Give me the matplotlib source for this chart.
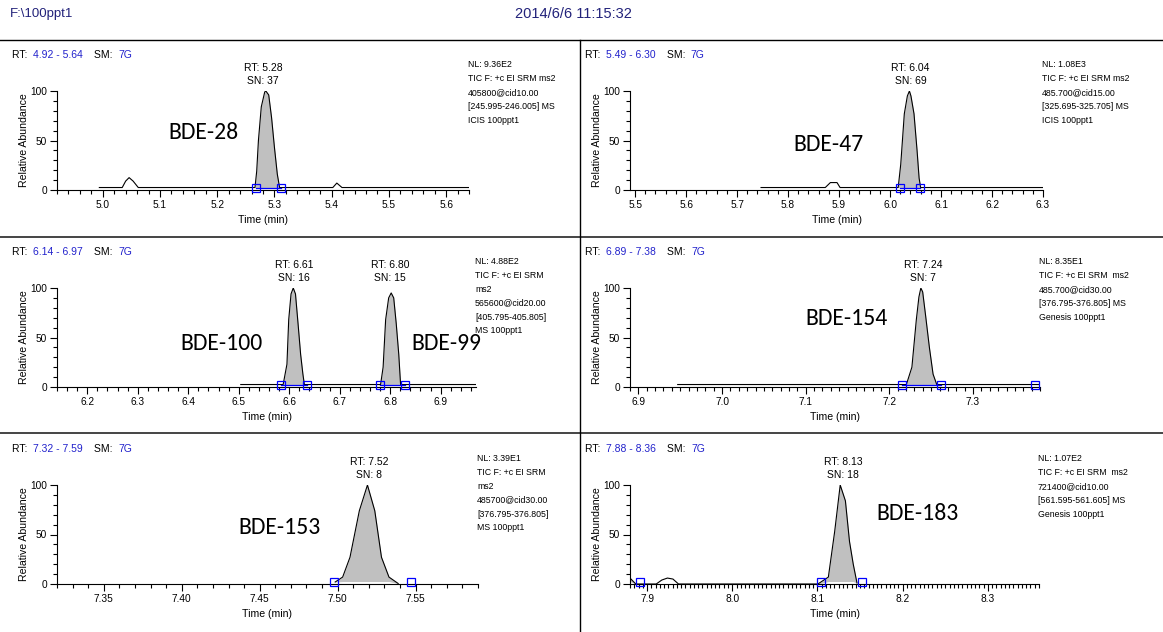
import numpy as np
import matplotlib
matplotlib.use('Agg')
import matplotlib.pyplot as plt
from matplotlib.lines import Line2D
from matplotlib.ticker import MultipleLocator, FormatStrFormatter

plt.rcParams['font.family'] = ['Liberation Sans', 'DejaVu Sans']

W, H = 1163, 632
BLUE = '#2222cc'
NAVY = '#22227a'
FILL = '#c0c0c0'

# ---- data (time in min, relative abundance %) ----
tl_range = (4.92, 5.64)
tl_time = [4.994, 5.034, 5.040, 5.046, 5.053, 5.062, 5.266, 5.269, 5.272, 5.277, 5.283,
           5.285, 5.290, 5.295, 5.300, 5.305, 5.309, 5.402, 5.409, 5.418, 5.640]
tl_abund = [2.5, 2.5, 9, 12.5, 9, 2.5, 2.5, 19, 50, 84, 99,
            100, 96, 73, 43, 16, 2.5, 2.5, 7, 2.5, 2.5]
tl_marks = [5.267, 5.312]
tl_fill = [(5.266, 5.309)]
tl_rt = [5.28]
tl_sn = [37]

tr_range = (5.49, 6.30)
tr_time = [5.747, 5.873, 5.883, 5.896, 5.902, 6.016, 6.021, 6.028, 6.034, 6.038,
           6.041, 6.047, 6.053, 6.057, 6.060, 6.300]
tr_abund = [2.5, 2.5, 7.5, 7.5, 2.5, 2.5, 26, 77, 95, 100,
            95, 77, 40, 12, 2.5, 2.5]
tr_marks = [6.019, 6.058]
tr_fill = [(6.016, 6.060)]
tr_rt = [6.04]
tr_sn = [69]

ml_range = (6.14, 6.97)
ml_time = [6.504, 6.588, 6.5955, 6.599, 6.6036, 6.608, 6.6124, 6.6175, 6.6226, 6.6271, 6.630,
           6.781, 6.786, 6.791, 6.797, 6.802, 6.807, 6.812, 6.817, 6.8206, 6.970]
ml_abund = [2.5, 2.5, 23, 68, 94, 100, 94, 64, 33, 13, 2.5,
            2.5, 20, 68, 90, 95, 90, 64, 33, 2.5, 2.5]
ml_marks = [6.5845, 6.6345, 6.779, 6.829]
ml_fill = [(6.588, 6.630), (6.781, 6.8206)]
ml_rt = [6.61, 6.80]
ml_sn = [16, 15]

mr_range = (6.89, 7.38)
mr_time = [6.947, 7.2203, 7.2269, 7.2322, 7.2353, 7.2376, 7.2398, 7.2433, 7.2478,
           7.2522, 7.2566, 7.380]
mr_abund = [2.5, 2.5, 20, 68, 91, 100, 96, 72, 40, 13, 2.5, 2.5]
mr_marks = [7.2154, 7.2611, 7.3745]
mr_fill = [(7.2203, 7.2566)]
mr_rt = [7.24]
mr_sn = [7]

bl_range = (7.32, 7.59)
bl_time = [7.4984, 7.5032, 7.5079, 7.5139, 7.5191, 7.5238, 7.5281, 7.5329, 7.5388]
bl_abund = [2, 7, 27, 74, 100, 74, 27, 7, 0.5]
bl_marks = [7.4979, 7.547]
bl_fill = [(7.4984, 7.5388)]
bl_rt = [7.52]
bl_sn = [8]

br_range = (7.88, 8.36)
br_time = [7.880, 7.8868, 7.9108, 7.9173, 7.9239, 7.9304, 7.9369, 8.1005, 8.1128,
           8.1202, 8.1267, 8.1328, 8.1376, 8.1420, 8.1464]
br_abund = [6, 0, 0, 4, 6, 5, 0, 0, 7, 53, 100, 84, 43, 20, 1]
br_marks = [7.892, 8.104, 8.152]
br_fill = [(7.880, 7.8868), (8.1005, 8.1464)]
br_rt = [8.13]
br_sn = [18]

compounds = ['BDE-28', 'BDE-47', 'BDE-100', 'BDE-99', 'BDE-154', 'BDE-153', 'BDE-183']

nl_text = [
    ['NL: 9.36E2', 'TIC F: +c EI SRM ms2', '405800@cid10.00', '[245.995-246.005] MS', 'ICIS 100ppt1'],
    ['NL: 1.08E3', 'TIC F: +c EI SRM ms2', '485.700@cid15.00', '[325.695-325.705] MS', 'ICIS 100ppt1'],
    ['NL: 4.88E2', 'TIC F: +c EI SRM', 'ms2', '565600@cid20.00', '[405.795-405.805]', 'MS 100ppt1'],
    ['NL: 8.35E1', 'TIC F: +c EI SRM  ms2', '485.700@cid30.00', '[376.795-376.805] MS', 'Genesis 100ppt1'],
    ['NL: 3.39E1', 'TIC F: +c EI SRM', 'ms2', '485700@cid30.00', '[376.795-376.805]', 'MS 100ppt1'],
    ['NL: 1.07E2', 'TIC F: +c EI SRM  ms2', '721400@cid10.00', '[561.595-561.605] MS', 'Genesis 100ppt1'],
]


def fx(x):
    return x / W


def fy(y):
    return 1 - y / H


fig = plt.figure(figsize=(W / 100, H / 100), dpi=100)

# page header and frame
fig.text(fx(10), fy(14), 'F:\\100ppt1', color=NAVY, fontsize=9.5, va='center')
fig.text(fx(573), fy(14), '2014/6/6 11:15:32', color=NAVY, fontsize=10.5, va='center', ha='center')
fig.add_artist(Line2D([0, 1], [fy(40), fy(40)], color='black', lw=1.0))
for yy in (237, 433):
    fig.add_artist(Line2D([0, 1], [fy(yy), fy(yy)], color='#444444', lw=1.4))
fig.add_artist(Line2D([fx(580), fx(580)], [fy(40), 0], color='black', lw=1.0))


def panel(left, right, y0, rt_range, time, abund, marks, fills, joins, rts, sns,
          labels, nl, major, minor, fmt):
    ax = fig.add_axes([fx(left), fy(y0), (right - left) / W, 99 / H])
    t = np.array(time)
    v = np.array(abund)
    base = 2.5
    ax.plot(t, v, color='black', lw=0.8, zorder=3)
    for a, b in fills:
        m = (t >= a - 1e-6) & (t <= b + 1e-6)
        ax.fill_between(t[m], v[m], np.minimum(v[m], base), color=FILL, lw=0, zorder=2)
    for a, b in joins:
        ax.plot([a, b], [base, base], color='blue', lw=0.9, zorder=4)
    ax.plot(marks, [base] * len(marks), 's', mfc='none', mec='blue', ms=5.5, mew=0.9,
            clip_on=False, zorder=5)

    ax.set_xlim(*rt_range)
    ax.set_ylim(0, 100)
    for s in ('top', 'right'):
        ax.spines[s].set_visible(False)
    for s in ('left', 'bottom'):
        ax.spines[s].set_linewidth(0.8)
    ax.xaxis.set_major_locator(MultipleLocator(major))
    ax.xaxis.set_minor_locator(MultipleLocator(minor))
    ax.xaxis.set_major_formatter(FormatStrFormatter(fmt))
    ax.set_yticks([0, 50, 100])
    ax.yaxis.set_minor_locator(MultipleLocator(10))
    ax.tick_params(axis='both', which='major', length=5, width=0.8, labelsize=7.3, pad=2)
    ax.tick_params(axis='both', which='minor', length=3, width=0.8)
    ax.patch.set_alpha(0)

    for rt, sn in zip(rts, sns):
        ax.text(rt, 123, f'RT: {rt:.2f}', ha='center', va='center', fontsize=7.5, clip_on=False)
        ax.text(rt, 110, f'SN: {sn}', ha='center', va='center', fontsize=7.5, clip_on=False)
    for name, (lt, lv) in labels:
        ax.text(lt, lv, name, ha='center', va='center', fontsize=17,
                family=['Carlito', 'Lato', 'DejaVu Sans'], clip_on=False)

    fig.text(fx(left - 33), fy(y0 - 50), 'Relative Abundance', rotation=90,
             fontsize=7.6, ha='center', va='center')
    fig.text(fx((left + right) / 2), fy(y0 + 30), 'Time (min)', fontsize=7.6,
             ha='center', va='center')

    # run header: black captions, blue values
    pieces = [('RT: ', 'black'), (f'{rt_range[0]:.2f} - {rt_range[1]:.2f}', BLUE),
              ('SM: ', 'black'), ('7G', BLUE)]
    prev = fig.text(fx(left - 45), fy(y0 - 132), pieces[0][0], color=pieces[0][1],
                    fontsize=7.5, va='baseline')
    gaps = [2, 8, 2]
    for (txt, col), g in zip(pieces[1:], gaps):
        prev = ax.annotate(txt, xy=(1, 0), xycoords=prev, xytext=(g, 0),
                           textcoords='offset points', color=col, fontsize=7.5,
                           va='bottom', annotation_clip=False)

    fig.text(fx(right - 1), fy(y0 - 130), '\n'.join(nl), fontsize=6.3, va='top',
             ha='left', linespacing=1.7)
    return ax


panel(57, 469, 190, tl_range, tl_time, tl_abund, tl_marks, tl_fill, [(5.267, 5.312)],
      tl_rt, tl_sn, [(compounds[0], (5.176, 58))], nl_text[0], 0.1, 0.02, '%.1f')
panel(630, 1043, 190, tr_range, tr_time, tr_abund, tr_marks, tr_fill, [(6.019, 6.058)],
      tr_rt, tr_sn, [(compounds[1], (5.88, 46))], nl_text[1], 0.1, 0.02, '%.1f')
panel(57, 476, 387, ml_range, ml_time, ml_abund, ml_marks, ml_fill,
      [(6.5845, 6.6345), (6.779, 6.829)], ml_rt, ml_sn,
      [(compounds[2], (6.465, 44)), (compounds[3], (6.912, 44))], nl_text[2], 0.1, 0.02, '%.1f')
panel(630, 1040, 387, mr_range, mr_time, mr_abund, mr_marks, mr_fill, [(7.2154, 7.2611)],
      mr_rt, mr_sn, [(compounds[4], (7.149, 69))], nl_text[3], 0.1, 0.01, '%.1f')
panel(57, 478, 584, bl_range, bl_time, bl_abund, bl_marks, bl_fill, [],
      bl_rt, bl_sn, [(compounds[5], (7.463, 57))], nl_text[4], 0.05, 0.01, '%.2f')
panel(630, 1039, 584, br_range, br_time, br_abund, br_marks, br_fill, [],
      br_rt, br_sn, [(compounds[6], (8.217, 71))], nl_text[5], 0.1, 0.005, '%.1f')

fig.savefig('out.png', dpi=100)
